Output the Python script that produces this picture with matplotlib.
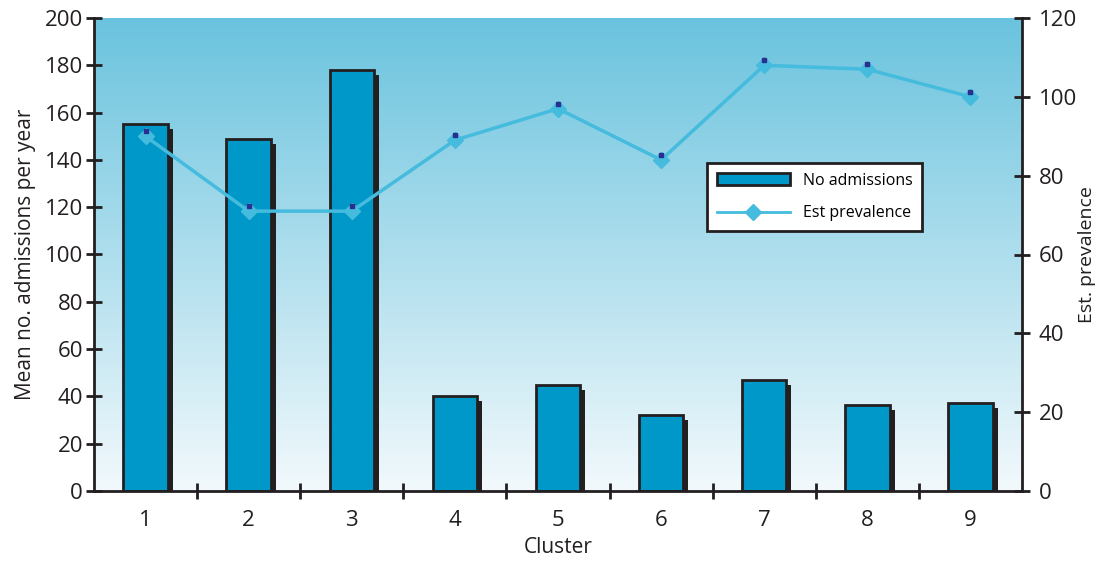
import matplotlib.pyplot as plt
import numpy as np
import matplotlib.transforms as mtransforms
from matplotlib.lines import Line2D
from matplotlib.patches import Patch

plt.rcParams['font.family'] = ['Open Sans', 'DejaVu Sans']

clusters = ["1", "2", "3", "4", "5", "6", "7", "8", "9"]
admissions = [155, 149, 178, 40, 45, 32, 47, 36.5, 37]
prevalence = [90, 71, 71, 89, 97, 84, 108, 107, 100]

bar_color = "#0098c8"
line_color = "#45bbdd"
ink = "#231f20"

fig = plt.figure(figsize=(11.01, 5.61), dpi=100)
ax = fig.add_axes([94 / 1101, 1 - 491 / 561, 928 / 1101, 473 / 561])
x = np.arange(len(clusters))

# vertical gradient background
grad = np.linspace(0, 1, 256).reshape(-1, 1)
top = np.array([0x6a, 0xc3, 0xde]) / 255
bottom = np.array([0xf2, 0xf9, 0xfc]) / 255
img = top + (bottom - top) * grad[..., None]
ax.imshow(img, extent=[-0.5, 8.5, 0, 200], aspect='auto', origin='upper', zorder=0)

# bar shadows, then bars
shadow = mtransforms.offset_copy(ax.transData, fig=fig, x=5, y=-5, units='dots')
ax.bar(x, admissions, width=0.43, color=ink, transform=shadow, zorder=1)
ax.bar(x, admissions, width=0.43, color=bar_color, edgecolor=ink, linewidth=2, zorder=2)

ax.set_xlim(-0.5, 8.5)
ax.set_ylim(0, 200)
ax.set_yticks(range(0, 201, 20))
ax.set_xticks(x)
ax.set_xticklabels(clusters)
ax.set_xticks(np.arange(0.5, 8.5, 1), minor=True)
ax.tick_params(axis='x', which='major', length=0, pad=14, labelsize=16, colors=ink)
ax.tick_params(axis='x', which='minor', direction='inout', length=12, width=2, color=ink)
ax.tick_params(axis='y', direction='inout', length=12, width=2, labelsize=16, colors=ink, pad=2)
for s in ['top', 'right']:
    ax.spines[s].set_visible(False)
for s in ['left', 'bottom']:
    ax.spines[s].set_linewidth(2)
    ax.spines[s].set_color(ink)
ax.set_ylabel("Mean no. admissions per year", fontsize=15, color=ink, labelpad=6)
ax.set_xlabel("Cluster", fontsize=15, color=ink, labelpad=4)

ax2 = ax.twinx()
ax2.set_ylim(0, 120)
ax2.set_yticks(range(0, 121, 20))
ax2.plot(x, prevalence, color=line_color, linewidth=2.5, marker='D',
         markersize=8, markeredgecolor=line_color, zorder=3)
above = mtransforms.offset_copy(ax2.transData, fig=fig, x=0, y=5, units='dots')
ax2.plot(x, prevalence, linestyle='none', marker='s', markersize=3,
         color='#2a2f8f', transform=above, zorder=4)
ax2.tick_params(axis='y', direction='inout', length=12, width=2, labelsize=16, colors=ink, pad=6)
for s in ['top', 'left', 'bottom']:
    ax2.spines[s].set_visible(False)
ax2.spines['right'].set_linewidth(2)
ax2.spines['right'].set_color(ink)
ax2.set_ylabel("Est. prevalence", fontsize=14, color=ink, labelpad=1)

handles = [Patch(facecolor=bar_color, edgecolor=ink, linewidth=2),
           Line2D([], [], color=line_color, linewidth=2, marker='D', markersize=8)]
leg = ax2.legend(handles, ["No admissions", "Est prevalence"],
                 loc='upper left', bbox_to_anchor=(613 / 928, 1 - 145 / 473),
                 fancybox=False, framealpha=1, fontsize=11.5, labelspacing=1.05,
                 handlelength=4.6, borderpad=0.6, borderaxespad=0)
leg.get_frame().set_edgecolor(ink)
leg.get_frame().set_linewidth(2)

fig.savefig("out.png", dpi=100)
